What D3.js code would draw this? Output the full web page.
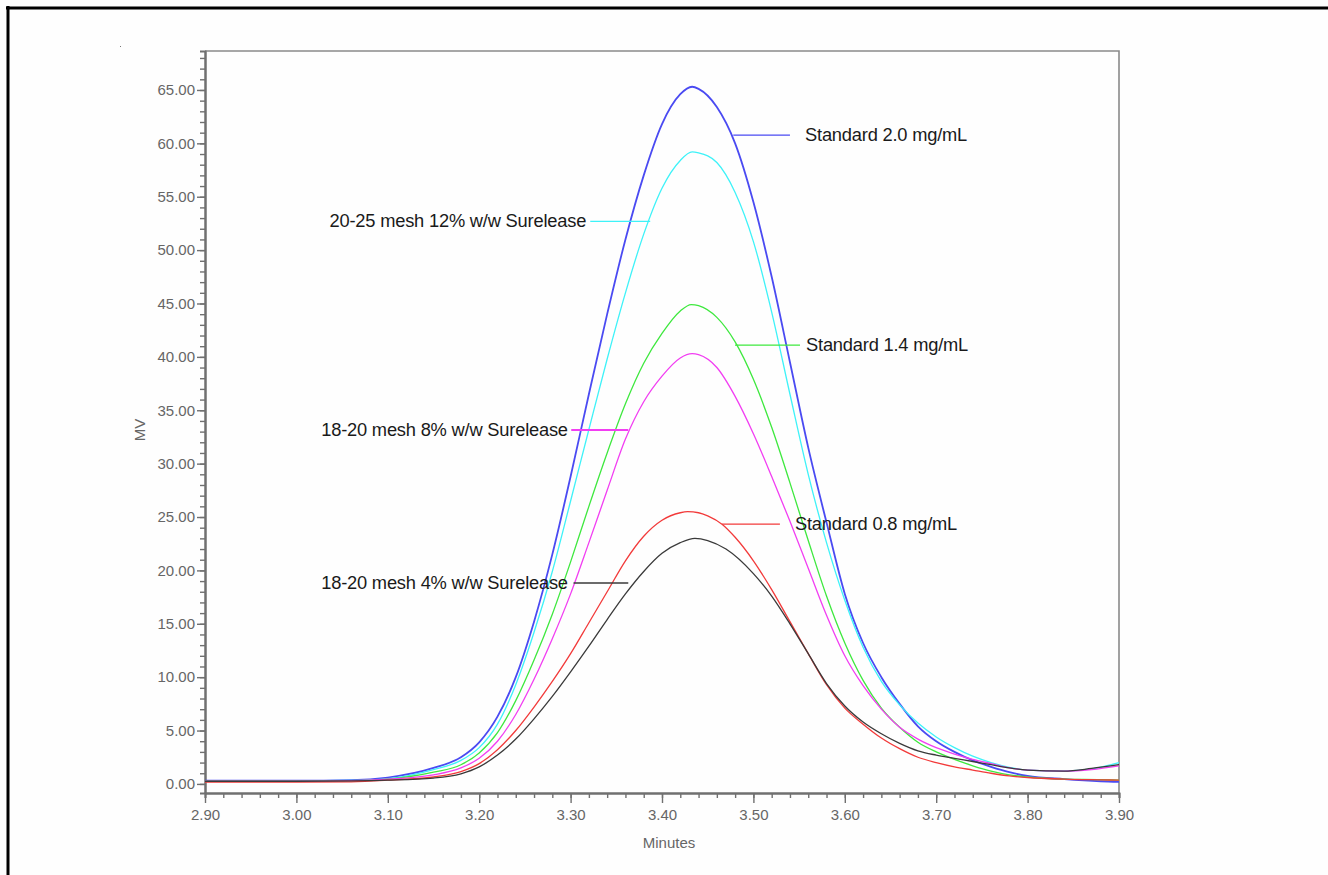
<!DOCTYPE html>
<html>
<head>
<meta charset="utf-8">
<script src="https://cdn.jsdelivr.net/npm/d3@7"></script>
<style>
  html, body { margin: 0; padding: 0; background: #fefefe; }
  svg { display: block; font-family: "Liberation Sans", Arial, sans-serif; }
</style>
</head>
<body>
<svg id="chart" width="1328" height="875"></svg>
<script>
// trace readings, [minutes, mV]
const std20Points = [[2.90,0.30],[3.00,0.30],[3.06,0.35],[3.10,0.60],[3.15,1.5],[3.18,2.5],[3.20,3.9],[3.22,6.3],[3.24,10.0],[3.26,15.2],[3.28,21.5],[3.30,28.8],[3.32,36.5],[3.34,44.0],[3.36,51.0],[3.38,57.0],[3.40,61.8],[3.42,64.6],[3.433,65.3],[3.44,65.1],[3.46,63.4],[3.48,60.0],[3.50,54.5],[3.52,47.5],[3.54,39.5],[3.56,31.5],[3.58,24.5],[3.60,17.8],[3.62,13.2],[3.64,10.0],[3.66,7.5],[3.68,5.4],[3.70,4.0],[3.72,3.0],[3.74,2.2],[3.76,1.6],[3.78,1.1],[3.80,0.75],[3.84,0.45],[3.88,0.25],[3.90,0.2]]
const mesh12Points = [[2.90,0.28],[3.00,0.28],[3.06,0.32],[3.10,0.50],[3.15,1.35],[3.18,2.2],[3.20,3.4],[3.22,5.6],[3.24,9.3],[3.26,14.2],[3.28,19.9],[3.30,26.5],[3.32,33.2],[3.34,39.8],[3.36,46.0],[3.38,51.5],[3.40,55.8],[3.42,58.4],[3.433,59.2],[3.44,59.1],[3.46,58.2],[3.48,55.4],[3.50,50.8],[3.52,44.2],[3.54,36.5],[3.56,29.0],[3.58,22.6],[3.60,17.2],[3.62,12.8],[3.64,9.6],[3.66,7.4],[3.68,5.7],[3.70,4.4],[3.72,3.4],[3.74,2.6],[3.76,2.0],[3.78,1.55],[3.80,1.3],[3.84,1.2],[3.87,1.4],[3.90,2.0]]
const std14Points = [[2.90,0.25],[3.00,0.25],[3.06,0.30],[3.10,0.45],[3.15,1.1],[3.18,1.8],[3.20,2.9],[3.22,4.8],[3.24,7.8],[3.26,11.6],[3.28,15.9],[3.30,20.8],[3.32,26.0],[3.34,31.0],[3.36,35.6],[3.38,39.4],[3.40,42.2],[3.42,44.3],[3.432,44.9],[3.44,44.8],[3.46,43.7],[3.48,41.4],[3.50,37.9],[3.52,33.4],[3.54,28.2],[3.56,22.8],[3.58,17.6],[3.60,13.2],[3.62,9.7],[3.64,7.1],[3.66,5.3],[3.68,3.9],[3.70,3.0],[3.72,2.3],[3.74,1.7],[3.76,1.2],[3.78,0.85],[3.80,0.65],[3.84,0.45],[3.88,0.4],[3.90,0.35]]
const mesh8Points = [[2.90,0.25],[3.00,0.25],[3.06,0.30],[3.10,0.45],[3.15,0.85],[3.18,1.5],[3.20,2.4],[3.22,4.0],[3.24,6.5],[3.26,9.8],[3.28,13.6],[3.30,17.8],[3.32,22.6],[3.34,27.5],[3.36,32.3],[3.38,35.8],[3.40,38.2],[3.42,39.9],[3.433,40.3],[3.44,40.2],[3.46,39.0],[3.48,36.3],[3.50,32.8],[3.52,28.8],[3.54,24.6],[3.56,20.2],[3.58,15.8],[3.60,12.0],[3.62,9.2],[3.64,7.0],[3.66,5.3],[3.68,4.2],[3.70,3.4],[3.72,2.8],[3.74,2.3],[3.76,1.9],[3.78,1.5],[3.80,1.3],[3.84,1.2],[3.87,1.35],[3.90,1.7]]
const std08Points = [[2.90,0.16],[3.00,0.16],[3.06,0.20],[3.10,0.35],[3.15,0.65],[3.18,1.15],[3.20,1.9],[3.22,3.2],[3.24,5.0],[3.26,7.2],[3.28,9.6],[3.30,12.2],[3.32,15.1],[3.34,18.0],[3.36,20.9],[3.38,23.2],[3.40,24.7],[3.42,25.4],[3.428,25.5],[3.44,25.4],[3.45,25.1],[3.466,24.3],[3.48,23.1],[3.50,20.9],[3.52,18.2],[3.54,15.2],[3.56,12.2],[3.58,9.3],[3.60,7.1],[3.62,5.6],[3.64,4.3],[3.66,3.3],[3.68,2.5],[3.70,2.0],[3.72,1.6],[3.74,1.3],[3.76,1.0],[3.78,0.75],[3.80,0.6],[3.84,0.45],[3.88,0.38],[3.90,0.35]]
const mesh4Points = [[2.90,0.25],[3.00,0.25],[3.06,0.28],[3.10,0.35],[3.15,0.55],[3.18,0.95],[3.20,1.6],[3.22,2.7],[3.24,4.2],[3.26,6.1],[3.28,8.2],[3.30,10.5],[3.32,12.9],[3.34,15.4],[3.36,17.8],[3.38,19.9],[3.40,21.6],[3.42,22.6],[3.436,23.0],[3.45,22.8],[3.47,22.0],[3.50,19.7],[3.52,17.6],[3.54,15.0],[3.56,12.2],[3.58,9.4],[3.60,7.3],[3.62,5.8],[3.64,4.7],[3.66,3.8],[3.68,3.1],[3.70,2.7],[3.72,2.4],[3.74,2.1],[3.76,1.8],[3.78,1.5],[3.80,1.3],[3.84,1.2],[3.87,1.45],[3.90,1.8]]

const seriesNames = ['Standard 2.0 mg/mL', '20-25 mesh 12% w/w Surelease', 'Standard 1.4 mg/mL', '18-20 mesh 8% w/w Surelease', 'Standard 0.8 mg/mL', '18-20 mesh 4% w/w Surelease']
const seriesPoints = [std20Points, mesh12Points, std14Points, mesh8Points, std08Points, mesh4Points]
const seriesColors = ['#4a4af2', '#3ef2f8', '#3ee83e', '#f23ef2', '#f23a3a', '#3a3a3a']

const xMajorTicks = d3.range(2.9, 3.9001, 0.1)
const yMajorTicks = d3.range(0, 65.001, 5)

// label placement: leader from x1 to x2 (minutes) at y (mV); text left or right of it
const labelPlacement = [
    { x1: 3.478, x2: 3.540, y: 60.77, side: 'right', tx: 3.5565 },
    { x1: 3.3215, x2: 3.3871, y: 52.7, side: 'left', tx: 3.317 },
    { x1: 3.4799, x2: 3.551, y: 41.1, side: 'right', tx: 3.5576 },
    { x1: 3.3007, x2: 3.3631, y: 33.15, side: 'left', tx: 3.297 },
    { x1: 3.4657, x2: 3.529, y: 24.34, side: 'right', tx: 3.5455 },
    { x1: 3.3032, x2: 3.3631, y: 18.82, side: 'left', tx: 3.297 }
]

const svg = d3.select('#chart')
const plotLeft = 205, plotRight = 1119, plotTop = 51, plotBottom = 793

// page frame
svg.append('rect').attr('x', 0).attr('y', 0).attr('width', 1328).attr('height', 875).attr('fill', '#fefefe')
svg.append('line').attr('x1', 6).attr('x2', 1328).attr('y1', 8).attr('y2', 8).attr('stroke', '#000').attr('stroke-width', 3)
svg.append('line').attr('x1', 8).attr('x2', 8).attr('y1', 6).attr('y2', 875).attr('stroke', '#000').attr('stroke-width', 3)
svg.append('rect').attr('x', 120).attr('y', 46).attr('width', 1).attr('height', 1).attr('fill', '#777')

const x = d3.scaleLinear().domain([2.9, 3.9]).range([plotLeft, plotRight])
const y = d3.scaleLinear().domain([-0.85, 68.65]).range([plotBottom, plotTop])

// plot frame (top and right)
svg.append('path')
    .attr('d', `M${plotLeft},${plotTop}H${plotRight}V${plotBottom}`)
    .attr('fill', 'none').attr('stroke', '#8a8a8a').attr('stroke-width', 1.6)

const tickColor = '#707070'
const labelColor = '#666'

// y axis
const yMinor = svg.append('g').attr('transform', `translate(${plotLeft},0)`)
    .call(d3.axisLeft(y).tickValues(d3.range(0, 68.5, 1)).tickSize(5).tickFormat(''))
const yMajor = svg.append('g').attr('transform', `translate(${plotLeft},0)`)
    .call(d3.axisLeft(y).tickValues(yMajorTicks).tickSize(8).tickSizeOuter(0).tickPadding(2).tickFormat(d3.format('.2f')))
// x axis
const xMinor = svg.append('g').attr('transform', `translate(0,${plotBottom})`)
    .call(d3.axisBottom(x).tickValues(d3.range(2.9, 3.9001, 0.02)).tickSize(5).tickFormat(''))
const xMajor = svg.append('g').attr('transform', `translate(0,${plotBottom})`)
    .call(d3.axisBottom(x).tickValues(xMajorTicks).tickSize(10).tickSizeOuter(0).tickPadding(6).tickFormat(d3.format('.2f')))

for (const g of [yMinor, yMajor, xMinor, xMajor]) {
    g.select('.domain').attr('stroke', tickColor).attr('stroke-width', 2)
    g.selectAll('.tick line').attr('stroke', tickColor).attr('stroke-width', 1.4)
    g.selectAll('.tick text').attr('fill', labelColor).style('font-size', '15px')
        .style('font-family', '"Liberation Sans", Arial, sans-serif')
}

// axis titles
svg.append('text').attr('x', 669).attr('y', 848).attr('text-anchor', 'middle')
    .attr('fill', labelColor).style('font-size', '15px').text('Minutes')
svg.append('text').attr('transform', 'translate(145,430) rotate(-90)').attr('text-anchor', 'middle')
    .attr('fill', labelColor).style('font-size', '15px').text('MV')

// traces
const line = d3.line().x(d => x(d[0])).y(d => y(d[1])).curve(d3.curveMonotoneX)
svg.append('g').selectAll('path')
    .data(seriesPoints)
    .enter().append('path')
    .attr('d', line)
    .attr('fill', 'none')
    .attr('stroke', (d, i) => seriesColors[i])
    .attr('stroke-width', (d, i) => i === 0 ? 1.8 : 1.3)

// labels with leader lines
const labels = svg.append('g')
labelPlacement.forEach((p, i) => {
    labels.append('line')
        .attr('x1', x(p.x1)).attr('x2', x(p.x2))
        .attr('y1', y(p.y)).attr('y2', y(p.y))
        .attr('stroke', seriesColors[i])
        .attr('stroke-width', i === 3 ? 2.2 : 1.3)
    labels.append('text')
        .attr('x', x(p.tx)).attr('y', y(p.y) + 6)
        .attr('text-anchor', p.side === 'right' ? 'start' : 'end')
        .attr('fill', '#1a1a1a')
        .style('font-size', '18.3px')
        .style('letter-spacing', '-0.2px')
        .text(seriesNames[i])
})
</script>
</body>
</html>
